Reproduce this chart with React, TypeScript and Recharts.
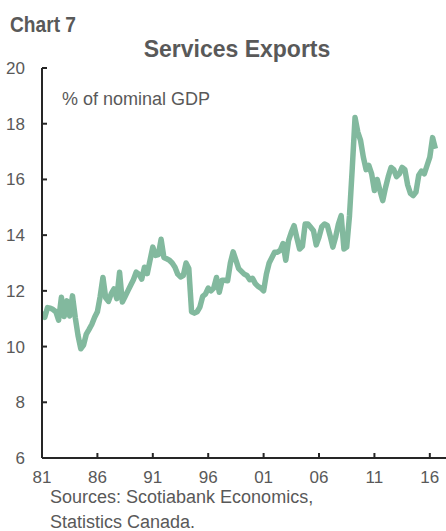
import { LineChart, Line, XAxis, YAxis } from 'recharts'

// Services exports, % of nominal GDP, quarterly from 1981Q1
const startYear = 1981
const values1980s = [
  11.24, 11.05, 11.4, 11.38, 11.33, 11.25, 10.95, 11.77, 11.08, 11.64, 11.1, 11.82,
  11.05, 10.4, 9.92, 10.05, 10.45, 10.62, 10.8, 11.05, 11.25, 11.8, 12.48, 11.75,
  11.62, 11.9, 12.07, 11.72, 12.67, 11.6, 11.8, 12.0, 12.2, 12.4, 12.67, 12.6,
]
const values1990s = [
  12.42, 12.85, 12.62, 13.1, 13.57, 13.27, 13.3, 13.85, 13.2, 13.15, 13.1, 13.0,
  12.85, 12.6, 12.5, 12.55, 13.0, 12.8, 11.25, 11.2, 11.25, 11.42, 11.8, 11.88,
  12.1, 12.0, 12.1, 12.48, 11.95, 12.38, 12.38, 12.36, 13.0, 13.4, 13.1, 12.8,
  12.7, 12.6, 12.55, 12.4,
]
const values2000s = [
  12.45, 12.26, 12.16, 12.1, 12.0, 12.6, 13.0, 13.2, 13.39, 13.39, 13.45, 13.7,
  13.1, 13.8, 14.1, 14.34, 13.9, 13.5, 13.6, 14.4, 14.4, 14.28, 14.16, 13.65,
  13.93, 14.3, 14.4, 14.35, 13.98, 13.57, 13.93, 14.4, 14.7, 13.5, 13.57, 14.7,
  16.4, 18.22, 17.7, 17.4,
]
const values2010s = [
  16.8, 16.35, 16.5, 16.2, 15.6, 16.0, 15.6, 15.24, 15.7, 16.1, 16.43, 16.35,
  16.1, 16.2, 16.43, 16.35, 15.8, 15.5, 15.42, 15.55, 16.15, 16.3, 16.2, 16.5,
  16.8, 17.5, 17.1,
]

const xTicks = [1981, 1986, 1991, 1996, 2001, 2006, 2011, 2016]
const xTickLabels = ['81', '86', '91', '96', '01', '06', '11', '16']
const yTicks = [6, 8, 10, 12, 14, 16, 18, 20]

const data = [...values1980s, ...values1990s, ...values2000s, ...values2010s].map((v, i) => ({
  t: startYear + i / 4,
  v,
}))

const font = '"Liberation Sans", Arial, sans-serif'
const grey = '#595959'
const axisColor = '#262626'

export default function App() {
  return (
    <div style={{ position: 'absolute', left: 0, top: 0, width: 446, height: 531, background: '#fff' }}>
      <LineChart width={446} height={531} data={data} margin={{ top: 68, right: 0, bottom: 43, left: 0 }}>
        <XAxis
          dataKey="t"
          type="number"
          domain={[1981, 2017.46]}
          ticks={xTicks}
          tickFormatter={(t: number) => xTickLabels[xTicks.indexOf(t)] ?? ''}
          height={30}
          stroke={axisColor}
          strokeWidth={2}
          tickSize={-5}
          tickMargin={18}
          tick={{ fill: grey, fontSize: 17, fontFamily: font }}
          allowDataOverflow
        />
        <YAxis
          type="number"
          domain={[6, 20]}
          ticks={yTicks}
          width={42}
          stroke={axisColor}
          strokeWidth={2}
          tickSize={-5}
          tickMargin={22}
          tick={{ fill: grey, fontSize: 17, fontFamily: font }}
          allowDataOverflow
        />
        <Line
          type="linear"
          dataKey="v"
          stroke="#82B99E"
          strokeWidth={5.5}
          strokeLinejoin="round"
          dot={false}
          isAnimationActive={false}
        />
      </LineChart>
      <svg
        width={446}
        height={531}
        style={{ position: 'absolute', left: 0, top: 0, pointerEvents: 'none' }}
        fontFamily={font}
        fill={grey}
      >
        <text x={10} y={32} fontSize={22} fontWeight="bold" textLength={66} lengthAdjust="spacingAndGlyphs">
          Chart 7
        </text>
        <text x={237} y={57} fontSize={23} fontWeight="bold" textAnchor="middle">Services Exports</text>
        <text x={62} y={105} fontSize={18}>% of nominal GDP</text>
        <text x={50} y={503} fontSize={18}>Sources: Scotiabank Economics,</text>
        <text x={50} y={528} fontSize={18}>Statistics Canada.</text>
      </svg>
    </div>
  )
}
